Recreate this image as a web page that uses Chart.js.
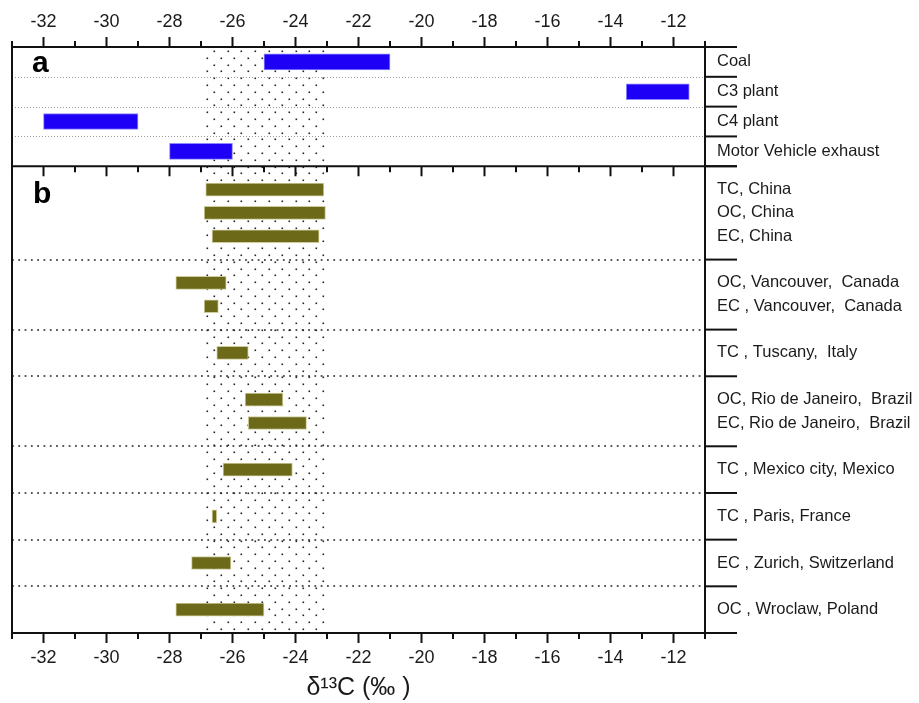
<!DOCTYPE html>
<html>
<head>
<meta charset="utf-8">
<script src="https://cdn.jsdelivr.net/npm/chart.js@4.4.1/dist/chart.umd.min.js"></script>
<style>
  html, body { margin: 0; padding: 0; background: #ffffff; }
  #wrap { width: 919px; height: 703px; }
</style>
</head>
<body>
<div id="wrap"><canvas id="c" width="919" height="703"></canvas></div>
<script>
// ---------- data ----------
const sourceLabels = ['Coal', 'C3 plant', 'C4 plant', 'Motor Vehicle exhaust'];
const sourceLow  = [-25, -13.5, -32, -28];
const sourceHigh = [-21, -11.5, -29, -26];

const sampleLabels = [
  'TC, China', 'OC, China', 'EC, China',
  'OC, Vancouver,  Canada', 'EC , Vancouver,  Canada',
  'TC , Tuscany,  Italy',
  'OC, Rio de Janeiro,  Brazil', 'EC, Rio de Janeiro,  Brazil',
  'TC , Mexico city, Mexico',
  'TC , Paris, France',
  'EC , Zurich, Switzerland',
  'OC , Wroclaw, Poland'
];
const sampleLow  = [-26.85, -26.9, -26.65, -27.8, -26.9, -26.5, -25.6, -25.5, -26.3, -26.65, -27.3, -27.8];
const sampleHigh = [-23.1, -23.05, -23.25, -26.2, -26.45, -25.5, -24.4, -23.65, -24.1, -26.5, -26.05, -25.0];
// number of samples in each site group (China, Vancouver, Tuscany, Rio, Mexico, Paris, Zurich, Wroclaw)
const groupSizes = [3, 2, 1, 2, 1, 1, 1, 1];

const shadeRange = [-26.8, -23.05];   // dotted band
const xMin = -33, xMax = -11;

// ---------- derived positions (row indices) ----------
const sourcePos = sourceLabels.map((_, i) => i + 0.5);
const samplePos = [];
const groupBounds = [0];
{
  let start = 0;
  groupSizes.forEach(n => {
    for (let k = 1; k <= n; k++) samplePos.push(start + k);
    start += n + 1;
    groupBounds.push(start);
  });
}
const bTotal = groupBounds[groupBounds.length - 1];

const sourceData = sourceLabels.map((_, i) => ({ x: [sourceLow[i], sourceHigh[i]], y: sourcePos[i] }));
const sampleData = sampleLabels.map((_, i) => ({ x: [sampleLow[i], sampleHigh[i]], y: samplePos[i] }));

Chart.defaults.font.family = '"Liberation Sans", Arial, sans-serif';
Chart.defaults.color = '#1a1a1a';

const framePlugin = {
  id: 'frame',
  beforeDatasetsDraw(chart) {
    const { ctx, chartArea: ca, scales } = chart;
    const x = scales.x, ya = scales.ya, yb = scales.yb;
    ctx.save();
    // dotted band
    const x0 = x.getPixelForValue(shadeRange[0]);
    const x1 = x.getPixelForValue(shadeRange[1]);
    ctx.fillStyle = '#222';
    const dx = 13.6, dy = 6.8;
    let row = 0;
    for (let yy = ca.top + 4; yy < ca.bottom - 1; yy += dy, row++) {
      const off = (row % 2) ? 0 : dx / 2;
      for (let xx = x0 + off; xx <= x1 + 0.5; xx += dx) {
        ctx.fillRect(Math.round(xx) - 0.5, Math.round(yy) - 0.5, 1.6, 1.6);
      }
    }
    // separators panel a
    ctx.strokeStyle = '#9a9a9a';
    ctx.lineWidth = 1;
    ctx.setLineDash([1, 2]);
    for (let v = 1; v < sourceLabels.length; v++) {
      const yy = Math.round(ya.getPixelForValue(v)) + 0.5;
      ctx.beginPath(); ctx.moveTo(ca.left, yy); ctx.lineTo(ca.right, yy); ctx.stroke();
    }
    // separators panel b
    ctx.strokeStyle = '#222';
    ctx.lineWidth = 1.6;
    ctx.setLineDash([1.8, 4.5]);
    for (let i = 1; i < groupBounds.length - 1; i++) {
      const yy = Math.round(yb.getPixelForValue(groupBounds[i]));
      ctx.beginPath(); ctx.moveTo(ca.left, yy); ctx.lineTo(ca.right, yy); ctx.stroke();
    }
    ctx.restore();
  },
  afterDraw(chart) {
    const { ctx, chartArea: ca, scales } = chart;
    const x = scales.x, ya = scales.ya, yb = scales.yb;
    ctx.save();
    ctx.strokeStyle = '#111';
    ctx.lineWidth = 2;
    ctx.setLineDash([]);
    // frame
    ctx.strokeRect(ca.left, ca.top, ca.right - ca.left, ca.bottom - ca.top);
    const mid = ya.bottom;
    ctx.beginPath(); ctx.moveTo(ca.left, mid); ctx.lineTo(ca.right, mid); ctx.stroke();
    // x ticks
    for (let v = xMin; v <= xMax; v++) {
      const px = x.getPixelForValue(v);
      const len = (v % 2 === 0) ? 10 : 6;
      ctx.beginPath();
      ctx.moveTo(px, ca.top); ctx.lineTo(px, ca.top - len);
      ctx.moveTo(px, ca.bottom); ctx.lineTo(px, ca.bottom + len);
      ctx.moveTo(px, mid); ctx.lineTo(px, mid + len);
      ctx.stroke();
    }
    // right side group ticks
    const tickR = (yy) => { ctx.beginPath(); ctx.moveTo(ca.right, yy); ctx.lineTo(ca.right + 32, yy); ctx.stroke(); };
    for (let v = 0; v <= sourceLabels.length; v++) tickR(ya.getPixelForValue(v));
    groupBounds.forEach(v => tickR(yb.getPixelForValue(v)));
    // panel letters
    ctx.fillStyle = '#000';
    ctx.font = 'bold 30px "Liberation Sans", Arial, sans-serif';
    ctx.textBaseline = 'alphabetic';
    ctx.textAlign = 'left';
    ctx.fillText('a', ca.left + 20, ca.top + 25);
    ctx.fillText('b', ca.left + 21, mid + 37);
    ctx.restore();
  }
};

const xTick = {
  stepSize: 1,
  autoSkip: false,
  maxRotation: 0,
  padding: 4,
  color: '#1a1a1a',
  font: { size: 18 },
  callback: (v) => (v % 2 === 0 ? String(v) : '')
};

new Chart(document.getElementById('c'), {
  type: 'bar',
  data: {
    datasets: [
      {
        label: 'Sources',
        data: sourceData,
        xAxisID: 'x', yAxisID: 'ya',
        backgroundColor: '#1e00f6',
        borderColor: '#8d88ff',
        borderWidth: 1,
        borderSkipped: false,
        barThickness: 16,
        grouped: false
      },
      {
        label: 'Samples',
        data: sampleData,
        xAxisID: 'x', yAxisID: 'yb',
        backgroundColor: '#6c6a18',
        borderColor: '#cfcd9e',
        borderWidth: 1,
        borderSkipped: false,
        barThickness: 13,
        grouped: false
      }
    ]
  },
  options: {
    indexAxis: 'y',
    responsive: false,
    animation: false,
    devicePixelRatio: 1,
    layout: { padding: { left: 12, right: 0, top: 0, bottom: 0 } },
    plugins: { legend: { display: false }, tooltip: { enabled: false }, title: { display: false } },
    scales: {
      x: {
        type: 'linear', position: 'bottom', min: xMin, max: xMax, offset: false,
        grid: { display: false, drawTicks: true, tickLength: 10, color: 'rgba(0,0,0,0)' },
        border: { display: false },
        ticks: xTick,
        title: { display: true, text: 'δ¹³C (‰ )', font: { size: 25 }, color: '#1a1a1a', padding: { top: 0, bottom: 0 } },
        afterFit: (s) => { s.height = 70; }
      },
      x2: {
        type: 'linear', position: 'top', min: xMin, max: xMax, offset: false,
        grid: { display: false, drawTicks: true, tickLength: 10, color: 'rgba(0,0,0,0)' },
        border: { display: false },
        ticks: xTick,
        afterFit: (s) => { s.height = 47; }
      },
      ya: {
        type: 'linear', position: 'right', stack: 'rows', stackWeight: 119.3,
        min: 0, max: sourceLabels.length, reverse: true, offset: false,
        grid: { display: false, drawTicks: false, offset: false },
        border: { display: false },
        afterBuildTicks: (s) => { s.ticks = sourcePos.map(v => ({ value: v })); },
        ticks: { autoSkip: false, padding: 12, font: { size: 16.5 }, color: '#1a1a1a',
                 callback: (v, i) => sourceLabels[i] },
        afterFit: (s) => { s.width = 214; }
      },
      yb: {
        type: 'linear', position: 'right', stack: 'rows', stackWeight: 467,
        min: 0, max: bTotal, reverse: true, offset: false,
        grid: { display: false, drawTicks: false, offset: false },
        border: { display: false },
        afterBuildTicks: (s) => { s.ticks = samplePos.map(v => ({ value: v })); },
        ticks: { autoSkip: false, padding: 12, font: { size: 16.5 }, color: '#1a1a1a',
                 callback: (v, i) => sampleLabels[i] },
        afterFit: (s) => { s.width = 214; }
      }
    }
  },
  plugins: [framePlugin]
});
</script>
</body>
</html>
